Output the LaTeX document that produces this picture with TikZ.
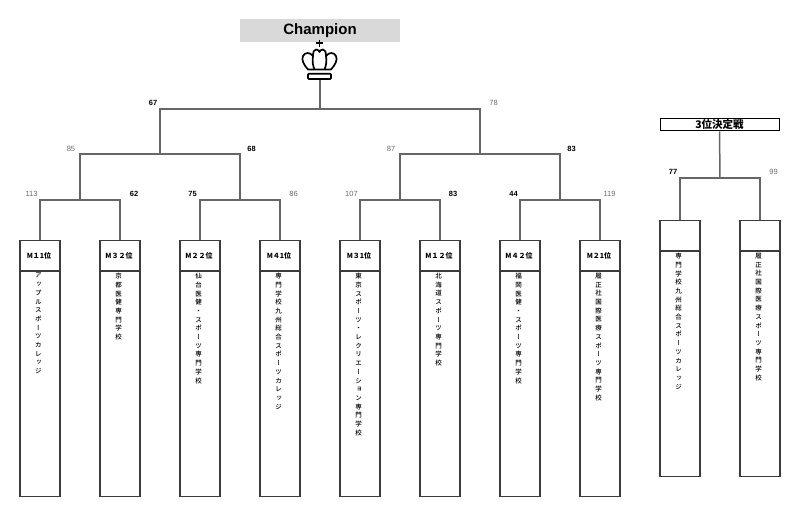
\documentclass[tikz,border=0pt]{standalone}
\usepackage{fontspec}
\setmainfont{Liberation Sans}
\newfontfamily\jp{Noto Sans CJK JP}
\newfontfamily\vjp[RawFeature=+vert, UprightFont={* Medium}]{Noto Sans CJK JP}
\definecolor{brc}{HTML}{666666}
\definecolor{boxc}{HTML}{3C3C3C}
\definecolor{losec}{HTML}{6A6A6A}
\definecolor{champc}{HTML}{D9D9D9}
\def\vtxtend{\vtxtend}
\def\vtxt#1{\vtxtA#1\vtxtend}
\def\vtxtA#1{\ifx#1\vtxtend\else#1\par\expandafter\vtxtA\fi}
\begin{document}
\begin{tikzpicture}[x=1pt,y=-1pt,
  br/.style={draw=brc, line width=1.5pt},
  box/.style={draw=boxc, line width=1.2pt, minimum width=40pt, minimum height=256pt, inner sep=0pt, anchor=north},
  hline/.style={draw=boxc, line width=1.2pt},
  hdr/.style={font=\jp\bfseries\fontsize{7}{8}\selectfont, inner sep=0pt},
  vt/.style={font=\vjp\fontsize{6.5}{8.7}\selectfont, text width=10pt, align=center, inner sep=0pt, anchor=north},
  lose/.style={font=\fontsize{7.5}{9}\selectfont, text=losec, anchor=base, inner sep=0pt},
  win/.style={font=\bfseries\fontsize{7.5}{9}\selectfont, text=black, anchor=base, inner sep=0pt},
  crownline/.style={line width=1.7pt, line join=round}]
\useasboundingbox (0,0) rectangle (800,516);

% champion
\node[fill=champc, minimum width=160pt, minimum height=23pt, inner sep=0pt,
      font=\bfseries\fontsize{15}{18}\selectfont] (champ) at (320,30.5) {Champion};
% crown
\draw[line width=1.9pt, line cap=butt] (319.5,40) -- (319.5,46.8) (315.8,43.3) -- (323.2,43.3);
\draw[crownline]
  (308,69.5) .. controls (304,65) and (301,60) .. (303,56)
  .. controls (305,52) and (310,52) .. (313,56)
  .. controls (313,52) and (314,49.5) .. (316,49.5)
  .. controls (318,49.5) and (319.5,51) .. (319.5,52)
  .. controls (319.5,51) and (321,49.5) .. (323,49.5)
  .. controls (325,49.5) and (326,52) .. (326,56)
  .. controls (329,52) and (334,52) .. (336,56)
  .. controls (338,60) and (335,65) .. (331,69.5) -- cycle;
\draw[crownline] (313,56) .. controls (312,61) and (313,66) .. (314.5,69.5)
  (326,56) .. controls (327,61) and (326,66) .. (324.5,69.5);
\draw[crownline, rounded corners=0.8pt] (308,73.7) rectangle (331,79);
\coordinate (crown) at (320,79.8);

% boxes
\node[box] (b1) at (40,240) {};
\node[box] (b2) at (120,240) {};
\node[box] (b3) at (200,240) {};
\node[box] (b4) at (280,240) {};
\node[box] (b5) at (360,240) {};
\node[box] (b6) at (440,240) {};
\node[box] (b7) at (520,240) {};
\node[box] (b8) at (600,240) {};
\node[box] (b9) at (680,220) {};
\node[box] (b10) at (760,220) {};
\foreach \b in {b1,b2,b3,b4,b5,b6,b7,b8,b9,b10}
  \draw[hline] ([yshift=-31pt]\b.north west) -- ([yshift=-31pt]\b.north east);

% headers
\node[hdr] (h1) at ([xshift=-1pt,yshift=-16pt]b1.north) {M１1位};
\node[hdr] (h2) at ([xshift=-1pt,yshift=-16pt]b2.north) {M３２位};
\node[hdr] (h3) at ([xshift=-1pt,yshift=-16pt]b3.north) {M２２位};
\node[hdr] (h4) at ([xshift=-1pt,yshift=-16pt]b4.north) {M４1位};
\node[hdr] (h5) at ([xshift=-1pt,yshift=-16pt]b5.north) {M３1位};
\node[hdr] (h6) at ([xshift=-1pt,yshift=-16pt]b6.north) {M１２位};
\node[hdr] (h7) at ([xshift=-1pt,yshift=-16pt]b7.north) {M４２位};
\node[hdr] (h8) at ([xshift=-1pt,yshift=-16pt]b8.north) {M２1位};

% school names
\node[vt] (t1) at ([xshift=-1.5pt,yshift=-33pt]b1.north) {\vtxt{アップルスポーツカレッジ}};
\node[vt] (t2) at ([xshift=-1.5pt,yshift=-33pt]b2.north) {\vtxt{京都医健専門学校}};
\node[vt] (t3) at ([xshift=-1.5pt,yshift=-33pt]b3.north) {\vtxt{仙台医健・スポーツ専門学校}};
\node[vt] (t4) at ([xshift=-1.5pt,yshift=-33pt]b4.north) {\vtxt{専門学校九州総合スポーツカレッジ}};
\node[vt] (t5) at ([xshift=-1.5pt,yshift=-33pt]b5.north) {\vtxt{東京スポーツ・レクリエーション専門学校}};
\node[vt] (t6) at ([xshift=-1.5pt,yshift=-33pt]b6.north) {\vtxt{北海道スポーツ専門学校}};
\node[vt] (t7) at ([xshift=-1.5pt,yshift=-33pt]b7.north) {\vtxt{福岡医健・スポーツ専門学校}};
\node[vt] (t8) at ([xshift=-1.5pt,yshift=-33pt]b8.north) {\vtxt{履正社国際医療スポーツ専門学校}};
\node[vt] (t9) at ([xshift=-1.5pt,yshift=-33pt]b9.north) {\vtxt{専門学校九州総合スポーツカレッジ}};
\node[vt] (t10) at ([xshift=-1.5pt,yshift=-33pt]b10.north) {\vtxt{履正社国際医療スポーツ専門学校}};

% bracket
\coordinate (a1) at (80,200);
\coordinate (a2) at (240,200);
\coordinate (a3) at (400,200);
\coordinate (a4) at (560,200);
\coordinate (c1) at (160,154);
\coordinate (c2) at (480,154);
\coordinate (top) at (320,109);
\draw[br] (b1.north) |- (a1) -| (b2.north);
\draw[br] (b3.north) |- (a2) -| (b4.north);
\draw[br] (b5.north) |- (a3) -| (b6.north);
\draw[br] (b7.north) |- (a4) -| (b8.north);
\draw[br] (a1) |- (c1) -| (a2);
\draw[br] (a3) |- (c2) -| (a4);
\draw[br] (c1) |- (top) -| (c2);
\draw[br] (top) -- (crown);

% third place
\node[draw=black, line width=1pt, minimum width=119pt, minimum height=12pt, inner sep=0pt,
      font=\jp\bfseries\fontsize{10.5}{12}\selectfont] (third) at (719.5,125) {3位決定戦};
\coordinate (tj) at (720,178);
\draw[br] (third.south) -- (tj);
\draw[br] (b9.north) |- (tj) -| (b10.north);

% scores
\node[lose] (s113) at (31.5,196) {113};
\node[win]  (s62)  at (134,196) {62};
\node[win]  (s75)  at (192.5,196) {75};
\node[lose] (s86)  at (293.5,196) {86};
\node[lose] (s107) at (351.5,196) {107};
\node[win]  (s83a) at (453,196) {83};
\node[win]  (s44)  at (513.5,196) {44};
\node[lose] (s119) at (609.5,196) {119};
\node[lose] (s85)  at (71,151) {85};
\node[win]  (s68)  at (251.5,151) {68};
\node[lose] (s87)  at (391,151) {87};
\node[win]  (s83b) at (571.5,151) {83};
\node[win]  (s67)  at (153,106) {67};
\node[lose] (s78)  at (493.5,106) {78};
\node[win]  (s77)  at (673,174) {77};
\node[lose] (s99)  at (773.5,174) {99};
\end{tikzpicture}
\end{document}
